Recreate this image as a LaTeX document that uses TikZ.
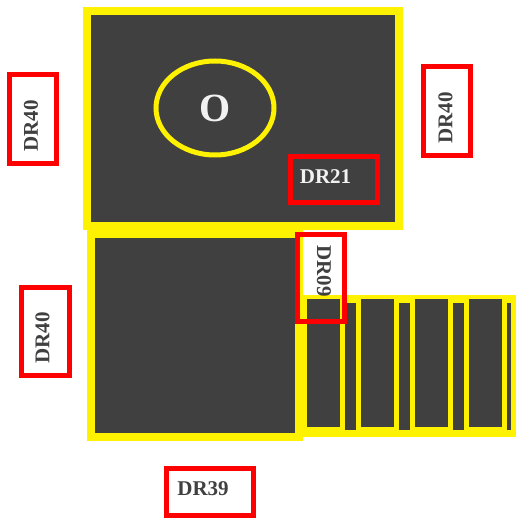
\documentclass[tikz,border=0pt]{standalone}
\usepackage{fontspec}
\setmainfont{Liberation Serif}
\usepackage{tikz}
\colorlet{floorColor}{black!75}
\colorlet{wallColor}{yellow}
\colorlet{tagColor}{red}
\colorlet{inkColor}{black!75}
\colorlet{paleColor}{white!95!black}
\tikzset{wall/.style={wallColor,line width=8pt,fill=floorColor},
  tagbox/.style={tagColor,line width=5pt},
  tag/.style={inkColor,font=\fontsize{21}{21}\selectfont\bfseries,inner sep=0pt}}

\begin{document}
\begin{tikzpicture}[x=1pt,y=-1pt,line join=miter]
  \useasboundingbox (0,0) rectangle (516,518);

  \draw [wall] (87,11) rectangle (399,226);
  \draw [wall] (91,234) rectangle (299,437);

  % strip of stalls
  \fill [wallColor] (302,295) rectangle (516,437);
  \foreach \x in {307,361,415,469}
    \fill [floorColor] (\x,299) rectangle (\x+33,427);
  \foreach \x/\w in {345/11,399/11,453/11,507/4}
    \fill [floorColor] (\x,303) rectangle (\x+\w,430);

  \draw [wallColor,line width=5pt] (215,108) ellipse (59 and 47);
  \node [tag,paleColor,font=\fontsize{40}{40}\selectfont\bfseries] (o) at (215,108) {O};

  \draw [tagbox] (9.5,74.5) rectangle (56.5,163.5);
  \draw [tagbox] (423.5,66.5) rectangle (470.5,155.5);
  \draw [tagbox] (21.5,287.5) rectangle (69.5,375.5);
  \draw [tagbox] (290.5,156.5) rectangle (377.5,202.5);
  \draw [tagbox] (297.5,234.5) rectangle (344.5,321.5);
  \draw [tagbox] (166.5,468.5) rectangle (253.5,515.5);

  \node [tag,rotate=90] (dr40a) at (31,126) {DR40};
  \node [tag,rotate=90] (dr40b) at (445.5,118) {DR40};
  \node [tag,rotate=90] (dr40c) at (42.5,338) {DR40};
  \node [tag,paleColor] (dr21) at (325.5,177) {DR21};
  \node [tag,rotate=-90] (dr09) at (324,271) {DR09};
  \node [tag] (dr39) at (203,489) {DR39};

\end{tikzpicture}
\end{document}
